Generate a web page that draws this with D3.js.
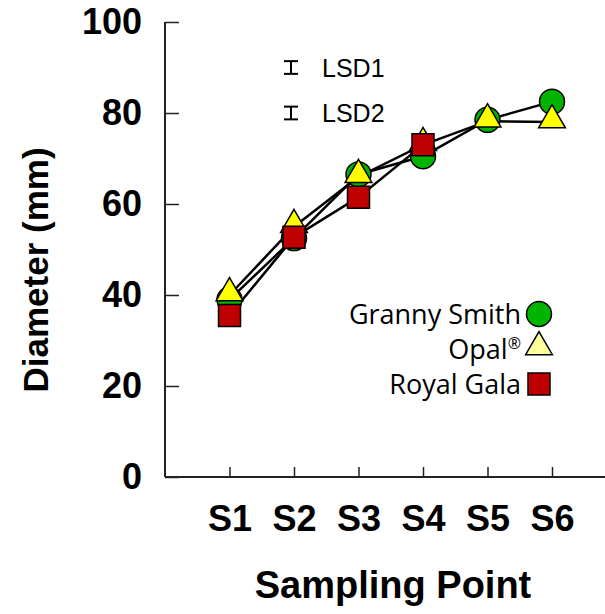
<!DOCTYPE html>
<html><head><meta charset="utf-8">
<script src="https://cdn.jsdelivr.net/npm/d3@7"></script>
<style>body{margin:0;background:#fff}svg{display:block}</style>
</head><body>
<script>
const categories = ["S1","S2","S3","S4","S5","S6"];
const grannySmith = [39, 52.5, 66.5, 70.5, 78.5, 82.5];
const opal = [40, 55, 66, 73, 78.2, 78];
const royalGala = [35.5, 52.7, 61.5, 73, null, null];
const yTicks = [0,20,40,60,80,100];
const lsdLabels = ["LSD1","LSD2"];
const lsdCenters = [90, 80];
const lsdHalf = [1.4, 1.4];
const legendNames = ["Granny Smith","Opal","Royal Gala"];

const W=605,H=614;
const svg=d3.select("body").append("svg").attr("width",W).attr("height",H);
const x0=165, yB=477, yT=22;
const step=64.5;
const x=d3.scalePoint().domain(["S0",...categories,"S7"]).range([x0, x0+step*7]);
const y=d3.scaleLinear().domain([0,100]).range([yB,yT]);

const bold="'Liberation Sans',Arial,sans-serif";
const yAx=svg.append("g").attr("transform",`translate(${x0},0)`)
  .call(d3.axisLeft(y).tickValues(yTicks).tickSizeInner(-14).tickSizeOuter(0).tickPadding(23));
const xAx=svg.append("g").attr("transform",`translate(0,${yB})`)
  .call(d3.axisBottom(x).tickValues(categories).tickSizeInner(-10).tickSizeOuter(0).tickPadding(28));
[yAx,xAx].forEach(g=>{
  g.select(".domain").attr("stroke","#222").attr("stroke-width",2);
  g.selectAll(".tick line").attr("stroke","#222").attr("stroke-width",1.5);
  g.selectAll("text").attr("font-family",bold).attr("font-weight","bold").attr("font-size",36).attr("fill","#000");
});
xAx.select(".domain").attr("d",`M${x0},0H${W}`);
yAx.select(".domain").attr("d",`M0,${yB}V${yT}`);
xAx.selectAll(".tick text").attr("dy","0.71em");

svg.append("text").attr("x",393).attr("y",598).attr("text-anchor","middle")
  .attr("font-family",bold).attr("font-weight","bold").attr("font-size",38).text("Sampling Point");
svg.append("text").attr("transform",`translate(48,270) rotate(-90)`).attr("text-anchor","middle")
  .attr("font-family",bold).attr("font-weight","bold").attr("font-size",35).text("Diameter (mm)");

const series=[
  {vals:grannySmith, shape:"circle", fill:"#00b400"},
  {vals:opal, shape:"triangle", fill:"#ffff00"},
  {vals:royalGala, shape:"square", fill:"#c00000"}
];
const line=d3.line().defined(d=>d.v!=null).x(d=>x(d.c)).y(d=>y(d.v));
series.forEach(s=>{
  const pts=categories.map((c,i)=>({c,v:s.vals[i]}));
  svg.append("path").datum(pts).attr("d",line).attr("fill","none").attr("stroke","#000").attr("stroke-width",2.5);
});
const sym={circle:d3.symbol(d3.symbolCircle,490),square:d3.symbol(d3.symbolSquare,484),triangle:d3.symbol(d3.symbolTriangle,310)};
function drawMarker(g,shape,fill,cx,cy){
  let ty = shape==="triangle"? cy-2 : cy;
  g.append("path").attr("d",sym[shape]()).attr("transform",`translate(${cx},${ty})`)
   .attr("fill",fill).attr("stroke","#000").attr("stroke-width",1.5);
}
series.forEach(s=>{
  const g=svg.append("g");
  categories.forEach((c,i)=>{ if(s.vals[i]!=null) drawMarker(g,s.shape,s.fill,x(c),y(s.vals[i])); });
});

const lx=291;
lsdLabels.forEach((t,i)=>{
  const g=svg.append("g");
  const c=lsdCenters[i], h=lsdHalf[i];
  g.append("line").attr("x1",lx).attr("x2",lx).attr("y1",y(c-h)).attr("y2",y(c+h)).attr("stroke","#000").attr("stroke-width",2);
  [c-h,c+h].forEach(v=>g.append("line").attr("x1",lx-7).attr("x2",lx+7).attr("y1",y(v)).attr("y2",y(v)).attr("stroke","#000").attr("stroke-width",2));
  g.append("text").attr("x",322).attr("y",y(c)).attr("dy","0.36em").attr("font-family","'Liberation Sans',Arial,sans-serif")
   .attr("font-size",25).text(t);
});

const legY=[314,349,384];
const legFills=["#00b400","#ffff99","#c00000"];
const legShapes=["circle","triangle","square"];
legendNames.forEach((n,i)=>{
  const t=svg.append("text").attr("x",521).attr("y",legY[i]).attr("dy","0.36em").attr("text-anchor","end")
    .attr("font-family","'Open Sans',sans-serif").attr("font-size",27).text(n);
  if(i===1) t.append("tspan").attr("font-size",16).attr("dy","-0.6em").text("®");
  drawMarker(svg,legShapes[i],legFills[i],539,legY[i]);
});
</script>
</body></html>
